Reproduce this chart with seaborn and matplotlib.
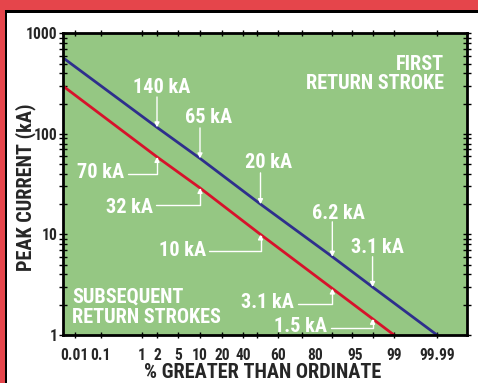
import numpy as np
import pandas as pd
import matplotlib
matplotlib.use("Agg")
import matplotlib.pyplot as plt
import seaborn as sns
from matplotlib import font_manager as fm
from matplotlib.patches import Rectangle
from matplotlib.ticker import NullFormatter, FixedLocator

# ---------------- data ----------------
first_pct = [0.001, 2, 10, 50, 86.5, 96.8, 99.99]
first_ka = [571, 116, 57, 20, 6.0, 3.0, 1]
subs_pct = [0.001, 2, 10, 50, 86.5, 96.8, 99]
subs_ka = [299, 59, 29, 10, 2.9, 1.45, 1]

first_labels = ["140 kA", "65 kA", "20 kA", "6.2 kA", "3.1 kA"]
first_label_pct = [2, 10, 50, 86.5, 96.8]
first_label_ka = [116, 57, 20, 6.0, 3.0]
subs_labels = ["70 kA", "32 kA", "10 kA", "3.1 kA", "1.5 kA"]
subs_label_pct = [2, 10, 50, 86.5, 96.8]
subs_label_ka = [59, 29, 10, 2.9, 1.45]

x_tick_values = [0.01, 0.1, 1, 2, 5, 10, 20, 40, 60, 80, 95, 99, 99.99]
x_tick_labels = ["0.01", "0.1", "1", "2", "5", "10", "20", "40", "60", "80", "95", "99", "99.99"]
x_tick_marks = [0.01, 0.1, 1, 2, 5, 10, 20, 40, 48, 60, 73, 86.5, 94, 96.8, 99, 99.99]
y_ticks = [1, 10, 100, 1000]
y_tick_labels = ["1", "10", "100", "1000"]

# probability-paper style axis (breakpoints of the printed scale)
scale_pct = [0.001, 0.01, 0.1, 1, 2, 5, 10, 20, 40, 60, 80, 95, 99, 99.99, 99.999]
scale_pos = [0, 11.5, 37.5, 79, 94, 115, 137, 159, 180, 215, 252, 292, 331, 374, 404]

def fwd(p):
    return np.interp(np.asarray(p, dtype=float), scale_pct, scale_pos)

def inv(s):
    return np.interp(np.asarray(s, dtype=float), scale_pos, scale_pct)

# ---------------- styling ----------------
GREEN = "#95C783"
BORDER_RED = "#E5454B"
BLUE = "#2E2F8C"
RED = "#D7122B"

sns.set_style("white")


def weight_num(w):
    if isinstance(w, (int, float)):
        return w
    return {"bold": 700, "semibold": 600, "demibold": 600, "heavy": 800,
            "extra bold": 800, "black": 900}.get(str(w).lower(), 400)


def pick_condensed():
    prefs = ["Liberation Sans Narrow", "Arial Narrow", "Roboto Condensed",
             "Open Sans Condensed", "Noto Sans", "DejaVu Sans", "Open Sans", "Roboto"]
    best = None
    for e in fm.fontManager.ttflist:
        st = str(e.stretch).lower()
        fname = e.fname.lower()
        cond = ("condensed" in st or "narrow" in e.name.lower()
                or "condensed" in e.name.lower() or "narrow" in fname or "condensed" in fname)
        if not cond or e.style != "normal" or weight_num(e.weight) < 600:
            continue
        if "semi" in st or "semi" in fname:
            rank_c = 1
        elif "extra" in st or "ultra" in st or "extra" in fname:
            rank_c = 2
        else:
            rank_c = 0
        rank_n = prefs.index(e.name) if e.name in prefs else len(prefs)
        key = (rank_n, rank_c)
        if best is None or key < best[0]:
            best = (key, e)
    return best[1] if best else None


cf = pick_condensed()
if cf is not None:
    plt.rcParams["font.family"] = [cf.name, "DejaVu Sans"]
    plt.rcParams["font.stretch"] = cf.stretch
else:
    plt.rcParams["font.family"] = ["Liberation Sans", "DejaVu Sans"]
plt.rcParams["font.weight"] = "bold"

df = pd.concat([
    pd.DataFrame({"pct": first_pct, "ka": first_ka, "series": "First return stroke"}),
    pd.DataFrame({"pct": subs_pct, "ka": subs_ka, "series": "Subsequent return strokes"}),
])

fig = plt.figure(figsize=(4.78, 3.83), dpi=100)
fig.patch.set_facecolor("white")
W, H = 478, 383
renderer = fig.canvas.get_renderer()


def fit_size(sample, target_px, max_pt):
    t = fig.text(0, 0, sample, size=10, fontweight="bold")
    w = t.get_window_extent(renderer).width
    t.remove()
    return min(max_pt, 10 * target_px / w)


BIG = fit_size("RETURN STROKE", 138, 14.6)
TICK = fit_size("99.99", 36, 12.8)

ax = fig.add_axes([63 / W, (H - 335) / H, (467 - 63) / W, (335 - 33.3) / H])
ax.set_facecolor(GREEN)

sns.lineplot(data=df, x="pct", y="ka", hue="series",
             palette={"First return stroke": BLUE, "Subsequent return strokes": RED},
             linewidth=2.0, legend=False, sort=False, estimator=None, ax=ax)

ax.set_xscale("function", functions=(fwd, inv))
ax.set_yscale("log")
ax.set_xlim(0.001, 99.999)
ax.set_ylim(1, 1000)

# x ticks: marks and labels
ax.xaxis.remove_overlapping_locs = False
ax.xaxis.set_major_locator(FixedLocator(x_tick_marks))
ax.xaxis.set_major_formatter(NullFormatter())
ax.xaxis.set_minor_locator(FixedLocator(x_tick_values))
ax.set_xticklabels(x_tick_labels, minor=True)
ax.tick_params(axis="x", which="major", direction="inout", length=5, width=1,
               top=True, bottom=True, color="black")
ax.tick_params(axis="x", which="minor", length=0, labelsize=TICK, pad=9.5)

# y ticks
ax.set_yticks(y_ticks)
ax.set_yticklabels(y_tick_labels)
ax.yaxis.set_minor_formatter(NullFormatter())
ax.tick_params(axis="y", which="both", direction="inout", length=6, width=1,
               left=True, right=True, color="black")
ax.tick_params(axis="y", which="major", labelsize=TICK, pad=1)

for lab in ax.get_xticklabels(minor=True) + ax.get_yticklabels():
    lab.set_fontweight("bold")

for sp in ax.spines.values():
    sp.set_color("black")
    sp.set_linewidth(2)

ax.set_xlabel("% GREATER THAN ORDINATE", fontsize=BIG, fontweight="bold", va="baseline")
ax.xaxis.set_label_coords(0.495, (335 - 378) / 301.7)
ax.set_ylabel("PEAK CURRENT (kA)", fontsize=BIG, fontweight="bold", va="baseline")
ax.yaxis.set_label_coords((31 - 63) / 404, 0.49)

txt = dict(color="white", fontsize=BIG, fontweight="bold")
ax.text((444 - 63) / 404, (335 - 70) / 301.7, "FIRST", transform=ax.transAxes,
        ha="right", va="baseline", **txt)
ax.text((444 - 63) / 404, (335 - 89) / 301.7, "RETURN STROKE", transform=ax.transAxes,
        ha="right", va="baseline", **txt)
ax.text((72 - 63) / 404, (335 - 303) / 301.7, "SUBSEQUENT", transform=ax.transAxes,
        ha="left", va="baseline", **txt)
ax.text((72 - 63) / 404, (335 - 323) / 301.7, "RETURN STROKES", transform=ax.transAxes,
        ha="left", va="baseline", **txt)

arrow_kw = dict(arrowstyle="-|>", color="white", lw=1.0, shrinkA=0, shrinkB=0,
                mutation_scale=7)

# first-stroke callouts: vertical arrows pointing down to the blue line
first_arrow_len = [30.4, 30.5, 31.3, 34.9, 30.3]
first_text_off = [(4.5, 34.4), (8.5, 35.5), (7.8, 36.3), (5.8, 37.9), (5.3, 34.3)]
for lab, p, v, L, (dx, dy) in zip(first_labels, first_label_pct, first_label_ka,
                                  first_arrow_len, first_text_off):
    ax.annotate("", xy=(p, v), xytext=(0, L), textcoords="offset pixels",
                arrowprops=arrow_kw)
    ax.annotate(lab, xy=(p, v), xytext=(dx, dy), textcoords="offset pixels",
                ha="center", va="baseline", **txt)

# subsequent-stroke callouts: elbow leaders pointing up to the red line
subs_leader_off = [(-29, -17.3), (-44, -16.7), (-51.7, -16.3), (-34.7, -16), (-41.7, -9.1)]
subs_text_off = [(-33, -21.3), (-47, -24.7), (-54.7, -21.3), (-38.7, -20), (-45.7, -13.1)]
for lab, p, v, (lx, ly), (dx, dy) in zip(subs_labels, subs_label_pct, subs_label_ka,
                                         subs_leader_off, subs_text_off):
    ax.annotate("", xy=(p, v), xytext=(lx, ly), textcoords="offset pixels",
                arrowprops=dict(connectionstyle="angle,angleA=0,angleB=90,rad=0",
                                **arrow_kw))
    ax.annotate(lab, xy=(p, v), xytext=(dx, dy), textcoords="offset pixels",
                ha="right", va="baseline", **txt)

# frame decoration (red band + black rule, top and left)
fig.add_artist(Rectangle((0, 0), 5 / W, 1, transform=fig.transFigure,
                         facecolor=BORDER_RED, edgecolor="none"))
fig.add_artist(Rectangle((0, 1 - 10 / H), 1, 10 / H, transform=fig.transFigure,
                         facecolor=BORDER_RED, edgecolor="none"))
fig.add_artist(Rectangle((5 / W, 0), 2.3 / W, 1 - 10 / H, transform=fig.transFigure,
                         facecolor="black", edgecolor="none"))
fig.add_artist(Rectangle((5 / W, 1 - 12.5 / H), 1, 2.5 / H, transform=fig.transFigure,
                         facecolor="black", edgecolor="none"))

fig.savefig("out.png", dpi=100)
